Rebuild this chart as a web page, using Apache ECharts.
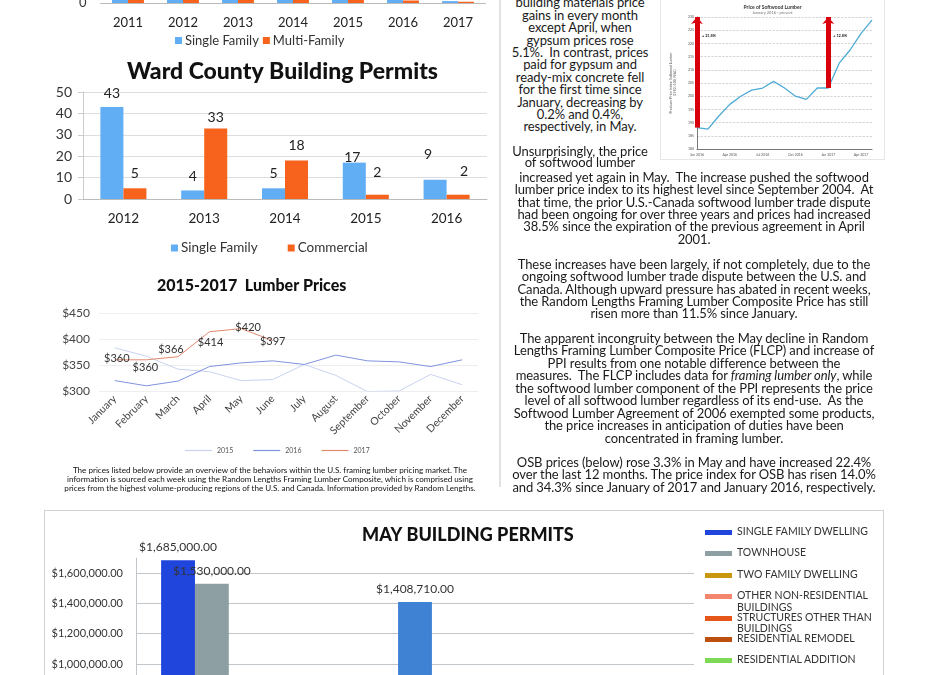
<!DOCTYPE html>
<html><head><meta charset="utf-8">
<script src="https://cdn.jsdelivr.net/npm/echarts@6/dist/echarts.min.js"></script>
<style>
html,body{margin:0;padding:0;background:#fff;}
body{width:927px;height:675px;overflow:hidden;position:relative;font-family:Lato,'Open Sans',sans-serif;color:#1a1a1a;}
.ch{position:absolute;}
.txt{position:absolute;white-space:nowrap;text-align:center;font-size:13px;line-height:12.4px;color:#1a1a1a;letter-spacing:-0.1px;}
.foot{position:absolute;white-space:nowrap;text-align:center;font-size:8.1px;line-height:9px;color:#111;}
.sep{position:absolute;left:499px;top:0;width:2px;height:487px;background:#e2e2e2;}
#leg{position:absolute;left:705px;top:526px;font-size:10.5px;color:#333;}
#leg .it{position:absolute;left:0;height:12px;white-space:nowrap;}
#leg .sw{position:absolute;left:0;top:4px;width:27px;height:5px;}
#leg .lb{position:absolute;left:32px;top:0;line-height:11.5px;width:150px;white-space:normal;}
</style></head><body>

<div id="topChart" class="ch" style="left:0;top:-300px;width:500px;height:360px;"></div>
<div id="wardChart" class="ch" style="left:0;top:55px;width:500px;height:215px;"></div>
<div id="lumberChart" class="ch" style="left:0;top:265px;width:500px;height:200px;"></div>
<div class="foot" style="left:40px;width:460px;top:465.5px;">The prices listed below provide an overview of the behaviors within the U.S. framing lumber pricing market. The<br>information is sourced each week using the Random Lengths Framing Lumber Composite, which is comprised using<br>prices from the highest volume-producing regions of the U.S. and Canada. Information provided by Random Lengths.</div>
<div class="sep"></div>

<div class="txt" style="left:505px;width:150px;top:-3.6px;">building materials price<br>gains in every month<br>except April, when<br>gypsum prices rose<br>5.1%.&nbsp; In contrast, prices<br>paid for gypsum and<br>ready-mix concrete fell<br>for the first time since<br>January, decreasing by<br>0.2% and 0.4%,<br>respectively, in May.</div>
<div class="txt" style="left:505px;width:150px;top:145.8px;line-height:11.6px;">Unsurprisingly, the price<br>of softwood lumber</div>
<div class="txt" style="left:494px;width:400px;top:170.8px;">increased yet again in May.&nbsp; The increase pushed the softwood<br>lumber price index to its highest level since September 2004.&nbsp; At<br>that time, the prior U.S.-Canada softwood lumber trade dispute<br>had been ongoing for over three years and prices had increased<br>38.5% since the expiration of the previous agreement in April<br>2001.</div>
<div class="txt" style="left:494px;width:400px;top:257.8px;">These increases have been largely, if not completely, due to the<br>ongoing softwood lumber trade dispute between the U.S. and<br>Canada. Although upward pressure has abated in recent weeks,<br>the Random Lengths Framing Lumber Composite Price has still<br>risen more than 11.5% since January.</div>
<div class="txt" style="left:494px;width:400px;top:331.8px;line-height:12.5px;">The apparent incongruity between the May decline in Random<br>Lengths Framing Lumber Composite Price (FLCP) and increase of<br>PPI results from one notable difference between the<br>measures.&nbsp; The FLCP includes data for <i>framing lumber only</i>, while<br>the softwood lumber component of the PPI represents the price<br>level of all softwood lumber regardless of its end-use.&nbsp; As the<br>Softwood Lumber Agreement of 2006 exempted some products,<br>the price increases in anticipation of duties have been<br>concentrated in framing lumber.</div>
<div class="txt" style="left:494px;width:400px;top:455.8px;">OSB prices (below) rose 3.3% in May and have increased 22.4%<br>over the last 12 months. The price index for OSB has risen 14.0%<br>and 34.3% since January of 2017 and January 2016, respectively.</div>

<div id="ppiChart" class="ch" style="left:660px;top:-1px;width:225px;height:161px;border:1px solid #e6e6e6;box-sizing:border-box;background:#fff;"></div>

<div id="permitChart" class="ch" style="left:44px;top:510px;width:840px;height:420px;border:1px solid #cfd3d5;box-sizing:border-box;"></div>
<div id="leg"></div>

<script>
// ---------- data ----------
const topYears = ['2011','2012','2013','2014','2015','2016','2017'];
const topSingle = [310, 290, 250, 200, 150, 90, 3];
const topMulti = [380, 420, 300, 150, 80, 4, 2];

const wardYears = ['2012','2013','2014','2015','2016'];
const wardSingle = [43, 4, 5, 17, 9];
const wardCommercial = [5, 33, 18, 2, 2];

const months = ['January','February','March','April','May','June','July','August','September','October','November','December'];
const lumber2015 = [383, 367, 342, 337, 320, 322, 351, 330, 299, 300, 332, 312];
const lumber2016 = [320, 310, 319, 347, 354, 358, 351, 369, 358, 356, 347, 360];
const lumber2017 = [360, 360, 366, 414, 420, 397];
const lumberTicks = [300, 350, 400, 450];

const ppiMonths = ['Jan 2016','Feb 2016','Mar 2016','Apr 2016','May 2016','Jun 2016','Jul 2016','Aug 2016','Sep 2016','Oct 2016','Nov 2016','Dec 2016','Jan 2017','Feb 2017','Mar 2017','Apr 2017','May 2017'];
const ppiValues = [188.1, 187.5, 192.5, 196.9, 200.0, 202.3, 203.1, 205.6, 203.1, 200.0, 198.8, 203.1, 203.1, 212.5, 217.5, 223.8, 228.8];
const ppiArrowLabels = ['+ 21.8%', '+ 12.8%'];

const permitTypes = ['SINGLE FAMILY DWELLING','TOWNHOUSE','TWO FAMILY DWELLING','OTHER NON-RESIDENTIAL BUILDINGS','STRUCTURES OTHER THAN BUILDINGS','RESIDENTIAL REMODEL','RESIDENTIAL ADDITION','COMMERCIAL REMODEL','COMMERCIAL ADDITION','GARAGES / CARPORTS','DECKS','DEMOLITION','SIGNS','FENCES','OTHER'];
const permitValues = [1685000, 1530000, 0, 250000, 96500, 412350, 186400, 1408710, 540000, 75000, 32000, 0, 0, 12000, 0];

// ---------- styles ----------
const BLUE = '#62AEF4', ORANGE = '#F7631C';
const permitColors = ['#1F45DC','#8E9FA3','#C8960F','#F4866E','#E5561B','#BD500F','#7ED957','#3F82D3','#5B6FA8','#E8B84A','#9C5AB8','#46A89A','#D94F70','#7A7A7A','#A3C43C'];
const wardSingleOffsets = [[0,-1],[0,-2],[0,-3],[-2,7],[-7,-13]];
const wardCommOffsets = [[0,-3],[0,1],[0,-3],[0,-10],[6,-11]];
const lumberLabelOffsets = [[2,-1],[-1,8],[-7,-7],[1,11],[7,-1],[0,1]];
const FONT = 'Lato';
const $fmt = v => '$' + v.toLocaleString('en-US', {minimumFractionDigits:2, maximumFractionDigits:2});

// ---------- top (cropped) chart ----------
echarts.init(document.getElementById('topChart')).setOption({
  animation:false, textStyle:{fontFamily:FONT},
  grid:{left:100.5, right:14.5, top:20, bottom:57},
  legend:{data:['Single Family','Multi-Family'], left:170, top:329, itemWidth:7, itemHeight:7, itemGap:4, icon:'rect',
    textStyle:{fontSize:13, color:'#333', padding:[0,0,0,-2]}},
  xAxis:{type:'category', data:topYears, axisLine:{lineStyle:{color:'#bbb'}}, axisTick:{lineStyle:{color:'#bbb'}},
    axisLabel:{fontSize:13, color:'#222', margin:13}},
  yAxis:{type:'value', min:0, max:450, interval:50, axisLine:{show:false}, splitLine:{lineStyle:{color:'#ddd'}},
    axisLabel:{fontSize:13, color:'#333', margin:14}},
  series:[
    {name:'Single Family', type:'bar', data:topSingle, itemStyle:{color:BLUE}, barGap:0, barCategoryGap:'42%'},
    {name:'Multi-Family', type:'bar', data:topMulti, itemStyle:{color:ORANGE}}
  ]
});

// ---------- Ward County chart ----------
echarts.init(document.getElementById('wardChart')).setOption({
  animation:false, textStyle:{fontFamily:FONT},
  title:{text:'Ward County Building Permits', left:122, top:0, textStyle:{fontSize:23, fontWeight:900, color:'#111', fontFamily:FONT}},
  grid:{left:83, right:13, top:37, bottom:71},
  legend:{data:['Single Family','Commercial'], left:166, top:181, itemWidth:7, itemHeight:7, itemGap:30, icon:'rect',
    textStyle:{fontSize:13.5, color:'#333', padding:[0,0,0,-2]}},
  xAxis:{type:'category', data:wardYears, axisLine:{lineStyle:{color:'#bbb'}}, axisTick:{length:5, lineStyle:{color:'#bbb'}},
    axisLabel:{fontSize:13.5, color:'#222', margin:13}},
  yAxis:{type:'value', min:0, max:50, interval:10, axisLine:{show:true, lineStyle:{color:'#ccc'}},
    axisTick:{show:true, length:5, lineStyle:{color:'#ccc'}}, splitLine:{lineStyle:{color:'#ddd'}},
    axisLabel:{fontSize:14, color:'#333', margin:11}},
  series:[
    {name:'Single Family', type:'bar', barGap:0, barCategoryGap:'43%', itemStyle:{color:BLUE},
      data:wardSingle.map((v,i)=>({value:v, label:{offset:wardSingleOffsets[i]}})),
      label:{show:true, position:'top', fontSize:14, color:'#222'}},
    {name:'Commercial', type:'bar', itemStyle:{color:ORANGE},
      data:wardCommercial.map((v,i)=>({value:v, label:{offset:wardCommOffsets[i]}})),
      label:{show:true, position:'top', fontSize:14, color:'#222'}}
  ]
});

// ---------- Lumber prices chart ----------
echarts.init(document.getElementById('lumberChart')).setOption({
  animation:false, textStyle:{fontFamily:FONT},
  title:{text:'2015-2017  Lumber Prices', left:152, top:8, textStyle:{fontSize:16, fontWeight:900, color:'#111', fontFamily:FONT}},
  grid:{left:99, right:22, top:48, bottom:74},
  legend:{data:['2015','2016','2017'], left:180, top:177, icon:'rect', itemWidth:27, itemHeight:1.2, itemGap:20,
    textStyle:{fontSize:7, color:'#555'}},
  xAxis:{type:'category', data:months, boundaryGap:true, axisLine:{show:false}, axisTick:{show:false},
    axisLabel:{rotate:45, fontSize:10.5, color:'#444', margin:6, interval:0}},
  yAxis:{type:'value', min:lumberTicks[0], max:lumberTicks[lumberTicks.length-1], interval:50, axisLine:{show:false},
    splitLine:{lineStyle:{color:'#eeeeee'}}, axisLabel:{fontSize:12, color:'#444', margin:9, formatter:v=>'$'+v}},
  series:[
    {name:'2015', type:'line', data:lumber2015, symbol:'none', lineStyle:{width:1, color:'#C9D3F0'}, itemStyle:{color:'#C9D3F0'}},
    {name:'2016', type:'line', data:lumber2016, symbol:'none', lineStyle:{width:1, color:'#7F93DE'}, itemStyle:{color:'#7F93DE'}},
    {name:'2017', type:'line', symbol:'circle', symbolSize:0.1, showSymbol:true, lineStyle:{width:1, color:'#E08A6E'}, itemStyle:{color:'#E08A6E'},
      data:lumber2017.map((v,i)=>({value:v, label:{offset:lumberLabelOffsets[i]}})),
      label:{show:true, position:'inside', fontSize:11, color:'#333', formatter:p=>'$'+p.value}}
  ]
});

// ---------- Price of Softwood Lumber (inset image) ----------
echarts.init(document.getElementById('ppiChart')).setOption({
  animation:false, textStyle:{fontFamily:FONT},
  title:{text:'Price of Softwood Lumber', subtext:'January 2016 - present', left:'center', top:0, itemGap:1,
    textStyle:{fontSize:5, fontWeight:'bold', color:'#333'}, subtextStyle:{fontSize:4, color:'#777'}},
  grid:{left:26, right:12, top:17, bottom:10},
  xAxis:{type:'category', data:ppiMonths, boundaryGap:false, axisLine:{lineStyle:{color:'#777'}}, axisTick:{show:false},
    axisLabel:{fontSize:3.5, color:'#555', margin:4, interval:2, formatter:(v,i)=> (i%3===0? v : '')}},
  yAxis:{type:'value', min:180, max:230, interval:5, name:'Producer Price Index: Softwood Lumber\n(1982=100, NSA)', nameLocation:'middle', nameRotate:90, nameGap:15,
    nameTextStyle:{fontSize:3.5, color:'#555'}, axisLine:{show:true, lineStyle:{color:'#777'}},
    splitLine:{lineStyle:{color:'#bbb', type:'dashed', width:0.6}}, axisLabel:{fontSize:3.5, color:'#555', margin:3}},
  series:[{type:'line', data:ppiValues, symbol:'none', lineStyle:{width:1.3, color:'#4EABD6'},
    markLine:{silent:true, symbol:['none','arrow'], symbolSize:[9,7],
      lineStyle:{color:'#D8000C', width:5, type:'solid'},
      label:{show:false},
      data:[
        [{coord:[0, ppiValues[0]]}, {coord:[0, 230]}],
        [{coord:[12, ppiValues[12]]}, {coord:[12, 230]}]
      ]
    },
    markPoint:{silent:true, symbol:'circle', symbolSize:0.1,
      label:{show:true, position:'right', distance:5, fontSize:3.8, fontWeight:'bold', color:'#222', formatter:p=>p.name},
      data:[
        {coord:[0, 223], name:ppiArrowLabels[0]},
        {coord:[12, 223], name:ppiArrowLabels[1]}
      ]
    }}]
});

// ---------- May building permits ----------
echarts.init(document.getElementById('permitChart')).setOption({
  animation:false, textStyle:{fontFamily:FONT},
  title:{text:'MAY BUILDING PERMITS', left:312, top:10, textStyle:{fontSize:18, fontWeight:900, color:'#111', fontFamily:FONT}},
  grid:{left:91, width:558, top:47, height:257.5},
  xAxis:{type:'category', data:['May'], axisLabel:{show:false}, axisTick:{show:false}, axisLine:{lineStyle:{color:'#bbb'}}},
  yAxis:{type:'value', min:0, max:1700000, interval:200000, axisLine:{show:true, lineStyle:{color:'#c0c6c9'}},
    axisTick:{show:false}, splitLine:{showMaxLine:false, lineStyle:{color:'#c0c6c9'}},
    axisLabel:{fontSize:11, color:'#333', margin:13, showMaxLabel:false, formatter:$fmt}},
  series: permitTypes.map((n,i)=>({name:n, type:'bar', data:[permitValues[i]], barGap:0, barCategoryGap:'9%',
    itemStyle:{color:permitColors[i]},
    label:{show:true, position:'top', fontSize:12, color:'#333', distance:7, formatter:p=>$fmt(p.value)}}))
});

// HTML legend for permits
const leg = document.getElementById('leg');
permitTypes.forEach((n,i)=>{
  const d = document.createElement('div');
  d.className='it'; d.style.top = (i*21.4)+'px';
  d.innerHTML = '<div class="sw" style="background:'+permitColors[i]+'"></div><div class="lb">'+n+'</div>';
  leg.appendChild(d);
});
</script>
</body></html>
